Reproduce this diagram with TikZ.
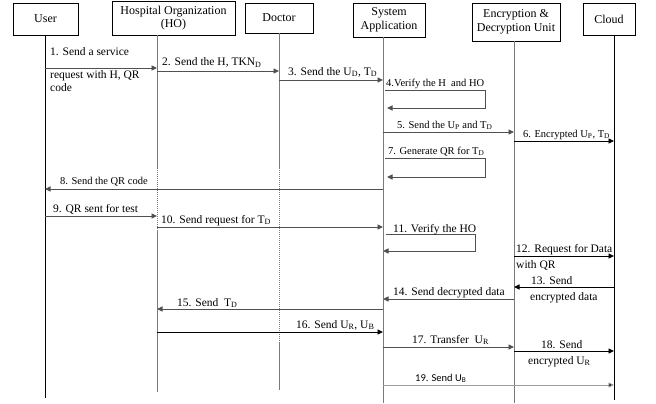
\documentclass[tikz,border=0pt]{standalone}
\usepackage{fontspec}
\setmainfont{Liberation Serif}
\newfontfamily\calibrifont{Carlito}
\usetikzlibrary{arrows.meta, positioning}
\definecolor{LineGray}{HTML}{505050}
\definecolor{LifeGray}{HTML}{7A7A7A}
\definecolor{SoftGray}{HTML}{9C9C9C}

\begin{document}
\begin{tikzpicture}[x=1pt, y=-1pt,
    actor/.style={
        rectangle, draw=black, line width=0.8pt, fill=white, inner sep=1pt,
        align=center, font=\fontsize{12}{13.5}\selectfont
    },
    life/.style={line width=1pt, color=LifeGray},
    msg/.style={
        -{Triangle[length=5.5pt,width=5pt]}, line width=0.9pt, color=LineGray
    },
    lbl/.style={anchor=base west, inner sep=0pt, font=\fontsize{11.5}{13}\selectfont},
    lblsmall/.style={lbl, font=\fontsize{10.5}{12}\selectfont}
]

    \useasboundingbox (0,0) rectangle (656,404);

    % Header boxes
    \node[actor, minimum width=65pt, minimum height=32pt] (user) at (45.5,19) {User};
    \node[actor, minimum width=123pt, minimum height=34pt] (ho) at (173.5,18) {Hospital Organization\\(HO)};
    \node[actor, minimum width=68pt, minimum height=30pt] (doctor) at (279,18) {Doctor};
    \node[actor, minimum width=72pt, minimum height=34pt] (sys) at (389,20) {System\\Application};
    \node[actor, minimum width=88pt, minimum height=38pt] (enc) at (516,22) {Encryption \&\\Decryption Unit};
    \node[actor, minimum width=52pt, minimum height=32pt] (cloud) at (609,19) {Cloud};

    % Lifelines
    \coordinate (userL) at (45,398);
    \coordinate (hoL) at (157,392);
    \coordinate (docL) at (279,390);
    \coordinate (sysL) at (383,403);
    \coordinate (encL) at (514,403);
    \coordinate (cloudL) at (614,400);

    \draw[life, color=black] (user.south -| userL) -- (userL);
    \draw[life] (ho.south -| hoL) -- (hoL |- 0,168);
    \draw[life, densely dotted] (hoL |- 0,168) -- (hoL |- 0,230);
    \draw[life] (hoL |- 0,230) -- (hoL);
    \draw[life] (doctor.south -| docL) -- (docL |- 0,168);
    \draw[life, densely dotted] (docL |- 0,168) -- (docL |- 0,343);
    \draw[life] (docL |- 0,343) -- (docL);
    \draw[life] (sys.south -| sysL) -- (sysL);
    \draw[life] (enc.south -| encL) -- (encL);
    \draw[life, color=black] (cloud.south -| cloudL) -- (cloudL);

    % Loop corners
    \coordinate (v4) at (485,90);
    \coordinate (v7) at (485,158);
    \coordinate (v11) at (475,234);

    % Messages
    \draw[msg] (userL |- 0,68) -- (hoL |- 0,68);
    \node[lbl] (l1) at (50,56) {1. Send a service};
    \node[lbl] (l1b) at (50,78) {request with H, QR};
    \node[lbl] (l1c) at (50,92) {code};

    \draw[msg] (hoL |- 0,71) -- (docL |- 0,71);
    \node[lbl] (l2) at (162,66) {2. Send the H, TKN\textsubscript{D}};

    \draw[msg] (docL |- 0,80) -- (sysL |- 0,80);
    \node[lbl] (l3) at (288,75) {3. Send the U\textsubscript{D}, T\textsubscript{D}};

    \draw[msg] ([xshift=2pt]sysL |- v4) -- (v4) |- ([xshift=4pt]sysL |- 0,108);
    \node[lblsmall] (l4) at (386,87) {4.Verify the H\ \ and HO};

    \draw[msg] (sysL |- 0,132) -- (encL |- 0,132);
    \node[lblsmall] (l5) at (397,128) {5. Send the U\textsubscript{P} and T\textsubscript{D}};

    \draw[msg, color=black] (encL |- 0,141) -- (cloudL |- 0,141);
    \node[lblsmall] (l6) at (523,137) {6. Encrypted U\textsubscript{P}, T\textsubscript{D}};

    \draw[msg] ([xshift=2pt]sysL |- v7) -- (v7) |- ([xshift=4pt]sysL |- 0,177);
    \node[lblsmall] (l7) at (388,154) {7. Generate QR for T\textsubscript{D}};

    \draw[msg] (sysL |- 0,189) -- (userL |- 0,189);
    \node[lblsmall] (l8) at (60,184) {8. Send the QR code};

    \draw[msg] (userL |- 0,216) -- (hoL |- 0,216);
    \node[lbl] (l9) at (53,212) {9. QR sent for test};

    \draw[msg] (hoL |- 0,227) -- (sysL |- 0,227);
    \node[lbl] (l10) at (161,223) {10. Send request for T\textsubscript{D}};

    \draw[msg] ([xshift=3pt]sysL |- v11) -- (v11) |- (sysL |- 0,251);
    \node[lbl] (l11) at (393,232) {11. Verify the HO};

    \draw[msg, color=black] (encL |- 0,256) -- (cloudL |- 0,256);
    \node[lbl] (l12) at (516,252) {12. Request for Data};
    \node[lbl] (l12b) at (516,268) {with QR};

    \draw[msg, color=black] (cloudL |- 0,287) -- (encL |- 0,287);
    \node[lbl] (l13) at (531,284) {13. Send};
    \node[lbl] (l13b) at (530,300) {encrypted data};

    \draw[msg] (encL |- 0,299) -- (sysL |- 0,299);
    \node[lbl] (l14) at (393,295) {14. Send decrypted data};

    \draw[msg] (sysL |- 0,309) -- (hoL |- 0,309);
    \node[lbl] (l15) at (177,306) {15. Send\ \ T\textsubscript{D}};

    \draw[msg, color=black] (hoL |- 0,332) -- (sysL |- 0,332);
    \node[lbl] (l16) at (296,328) {16. Send U\textsubscript{R}, U\textsubscript{B}};

    \draw[msg] (sysL |- 0,347) -- (encL |- 0,347);
    \node[lbl] (l17) at (412,343) {17. Transfer\ \ U\textsubscript{R}};

    \draw[msg, color=black] (encL |- 0,351) -- (cloudL |- 0,351);
    \node[lbl] (l18) at (541,348) {18. Send};
    \node[lbl] (l18b) at (528,364) {encrypted U\textsubscript{R}};

    \draw[msg, color=SoftGray, -{Triangle[length=5.5pt,width=5pt,fill=black]}] (sysL |- 0,385) -- (cloudL |- 0,385);
    \node[lbl, font=\calibrifont\fontsize{10.5}{12}\selectfont] (l19) at (415,381) {19. Send U\textsubscript{B}};

\end{tikzpicture}
\end{document}
